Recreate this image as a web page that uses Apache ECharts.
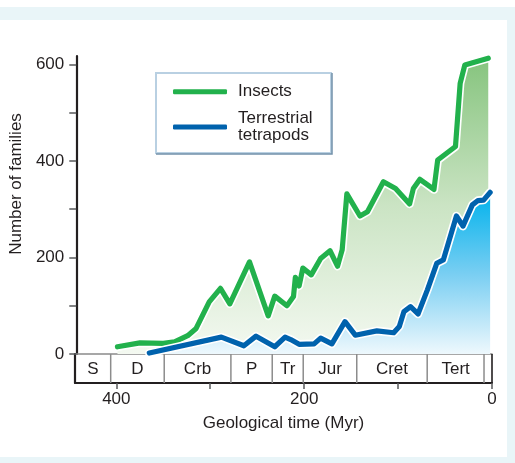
<!DOCTYPE html>
<html>
<head>
<meta charset="utf-8">
<script src="https://cdn.jsdelivr.net/npm/echarts@6/dist/echarts.min.js"></script>
<style>
  html, body { margin: 0; padding: 0; background: #ffffff; }
  #chart { width: 515px; height: 463px; }
</style>
</head>
<body>
<div id="chart"></div>
<script>
// Geological time is in millions of years before present (Myr); counts are families.
const insectAges = [400, 376, 351, 339, 325, 316, 302, 290, 280, 259, 239, 232, 219, 212, 210, 206, 202, 193, 183, 173, 165, 160, 155, 141, 133, 116, 103, 88, 84, 77, 62, 58, 39, 34, 29, 4];
const insectFamilies = [15, 23, 22, 25, 38, 53, 108, 136, 104, 191, 79, 120, 100, 119, 159, 141, 178, 164, 198, 214, 182, 216, 332, 286, 295, 357, 343, 311, 343, 362, 341, 402, 430, 561, 599, 613];

const tetrapodAges = [366, 289, 265, 252, 232, 221, 215, 206, 190, 183, 171, 157, 146, 123, 105, 99, 94, 87, 79, 69, 59, 52, 38, 31, 21, 15, 9, 2];
const tetrapodFamilies = [2, 35, 17, 37, 15, 35, 30, 20, 21, 33, 21, 67, 39, 48, 44, 57, 88, 98, 83, 133, 188, 195, 286, 265, 309, 318, 319, 335];

// Geological periods shown in the strip under the plot
const periodNames = ['S', 'D', 'Crb', 'P', 'Tr', 'Jur', 'Cret', 'Tert', ''];
const periodStarts = [444, 406, 349, 278, 234, 201, 144, 69, 8.5];
const periodEnds = [406, 349, 278, 234, 201, 144, 69, 8.5, 0];

// Axis ticks and labels
const familyTicks = [0, 100, 200, 300, 400, 500, 600];
const familyLabels = [0, 200, 400, 600];
const timeTicks = [0, 100, 200, 300, 400];
const timeLabels = [0, 200, 400];

const TIME_MAX = 444;
const FAMILY_MAX = 617.6;
const FONT = '"Liberation Sans", Arial, Helvetica, sans-serif';
const INK = '#231f20';
const TICK = '#58595b';
const GREEN = '#22b14c';
const BLUE = '#0062ad';

const pairs = (xs, ys) => xs.map((x, i) => [x, ys[i]]);
const insectData = pairs(insectAges, insectFamilies);
const tetrapodData = pairs(tetrapodAges, tetrapodFamilies);
const periodData = periodNames.map((n, i) => [periodStarts[i], periodEnds[i], n]);

const chart = echarts.init(document.getElementById('chart'), null, { renderer: 'canvas' });

chart.setOption({
  backgroundColor: '#ffffff',
  animation: false,
  textStyle: { fontFamily: FONT },
  graphic: [
    { type: 'rect', z: -20, silent: true, shape: { x: 0, y: 7, width: 515, height: 456 }, style: { fill: '#e9f5f8' } },
    { type: 'rect', z: -19, silent: true, shape: { x: 0, y: 20, width: 507, height: 437 }, style: { fill: '#ffffff' } },
    // legend frame
    { type: 'rect', z: 3, silent: true, shape: { x: 156, y: 73, width: 175, height: 80 }, style: { fill: '#ffffff', stroke: '#b9d0e2', lineWidth: 2 } },
    { type: 'polyline', z: 3, silent: true, shape: { points: [[332, 73], [332, 154], [156, 154]] }, style: { stroke: '#7391aa', lineWidth: 1.5, fill: null } }
  ],
  legend: {
    orient: 'vertical',
    left: 173,
    top: 82,
    itemGap: 7,
    itemWidth: 54,
    itemHeight: 5,
    padding: 0,
    icon: 'roundRect',
    data: ['Insects', 'Terrestrial tetrapods'],
    formatter: (name) => name === 'Terrestrial tetrapods' ? 'Terrestrial\ntetrapods' : name,
    textStyle: { fontSize: 17, lineHeight: 17.5, color: INK, fontFamily: FONT, padding: [2, 0, 0, 6] }
  },
  grid: [
    { left: 75, right: 23, top: 56, bottom: 109 },
    { left: 75, right: 23, top: 354, bottom: 80 }
  ],
  xAxis: [
    {
      gridIndex: 0, type: 'value', inverse: true, min: 0, max: TIME_MAX,
      axisLine: { show: true, onZero: false, lineStyle: { color: '#8a8a8a', width: 1.5 } },
      axisTick: { show: false }, axisLabel: { show: false }, splitLine: { show: false }
    },
    {
      gridIndex: 1, type: 'value', inverse: true, min: 0, max: TIME_MAX, position: 'bottom',
      axisLine: { show: true, onZero: false, lineStyle: { color: INK, width: 2 } },
      axisTick: { show: true, length: 6, customValues: timeTicks, lineStyle: { color: TICK, width: 1.5 } },
      axisLabel: { show: true, customValues: timeLabels, margin: 8, fontSize: 17, color: INK, fontFamily: FONT },
      splitLine: { show: false },
      name: 'Geological time (Myr)', nameLocation: 'middle', nameGap: 32,
      nameTextStyle: { fontSize: 17, color: INK, fontFamily: FONT }
    }
  ],
  yAxis: [
    {
      gridIndex: 0, type: 'value', min: 0, max: FAMILY_MAX, position: 'left',
      axisLine: { show: true, onZero: false, lineStyle: { color: INK, width: 2.2 } },
      axisTick: { show: true, inside: false, length: 7, customValues: familyTicks, lineStyle: { color: TICK, width: 1.5 } },
      axisLabel: { show: true, customValues: familyLabels, margin: 12, fontSize: 17, color: INK, fontFamily: FONT },
      splitLine: { show: false },
      name: 'Number of families', nameLocation: 'middle', nameGap: 42, nameRotate: 90,
      nameTextStyle: { fontSize: 17, color: INK, fontFamily: FONT, padding: [0, 0, 0, 42] }
    },
    {
      gridIndex: 1, type: 'value', min: 0, max: 1, position: 'left',
      axisLine: { show: true, onZero: false, lineStyle: { color: INK, width: 2.2 } },
      axisTick: { show: false }, axisLabel: { show: false }, splitLine: { show: false }
    }
  ],
  series: [
    {
      name: 'insect-area', type: 'line', xAxisIndex: 0, yAxisIndex: 0, data: insectData,
      symbol: 'none', silent: true, z: 1,
      lineStyle: { width: 0, opacity: 0 },
      areaStyle: {
        opacity: 1,
        color: new echarts.graphic.LinearGradient(0, 0, 0, 1, [
          { offset: 0, color: '#86c47e' },
          { offset: 0.5, color: '#cbe4c4' },
          { offset: 1, color: '#f4f9f1' }
        ])
      }
    },
    {
      name: 'tetrapod-area', type: 'line', xAxisIndex: 0, yAxisIndex: 0, data: tetrapodData,
      symbol: 'none', silent: true, z: 2,
      lineStyle: { width: 0, opacity: 0 },
      areaStyle: {
        opacity: 1,
        color: new echarts.graphic.LinearGradient(0, 0, 0, 1, [
          { offset: 0, color: '#00b2ec' },
          { offset: 0.5, color: '#78cef2' },
          { offset: 1, color: '#eef8fd' }
        ])
      }
    },
    {
      name: 'insect-halo', type: 'line', xAxisIndex: 0, yAxisIndex: 0, data: insectData,
      symbol: 'none', silent: true, z: 3,
      lineStyle: { width: 8.5, color: '#ffffff', cap: 'round', join: 'round' }
    },
    {
      name: 'Insects', type: 'line', xAxisIndex: 0, yAxisIndex: 0, data: insectData,
      symbol: 'none', z: 4, color: GREEN,
      lineStyle: { width: 5.2, color: GREEN, cap: 'round', join: 'round' }
    },
    {
      name: 'tetrapod-halo', type: 'line', xAxisIndex: 0, yAxisIndex: 0, data: tetrapodData,
      symbol: 'none', silent: true, z: 5,
      lineStyle: { width: 8.5, color: '#ffffff', cap: 'round', join: 'round' }
    },
    {
      name: 'Terrestrial tetrapods', type: 'line', xAxisIndex: 0, yAxisIndex: 0, data: tetrapodData,
      symbol: 'none', z: 6, color: BLUE,
      lineStyle: { width: 5.2, color: BLUE, cap: 'round', join: 'round' }
    },
    {
      name: 'periods', type: 'custom', xAxisIndex: 1, yAxisIndex: 1, data: periodData,
      silent: true, z: 7,
      renderItem: (params, api) => {
        const start = api.coord([api.value(0), 1]);
        const end = api.coord([api.value(1), 0]);
        const last = params.dataIndex === periodData.length - 1;
        const children = [
          {
            type: 'line',
            shape: { x1: end[0], y1: start[1], x2: end[0], y2: end[1] },
            style: { stroke: last ? INK : '#8c8c8c', lineWidth: last ? 1.6 : 1.5 }
          }
        ];
        const label = periodData[params.dataIndex][2];
        if (label) {
          children.push({
            type: 'text',
            style: {
              text: label,
              x: (start[0] + end[0]) / 2,
              y: (start[1] + end[1]) / 2 + 1,
              align: 'center',
              verticalAlign: 'middle',
              fontSize: 17,
              fontFamily: FONT,
              fill: INK
            }
          });
        }
        return { type: 'group', children };
      }
    }
  ]
});
</script>
</body>
</html>
